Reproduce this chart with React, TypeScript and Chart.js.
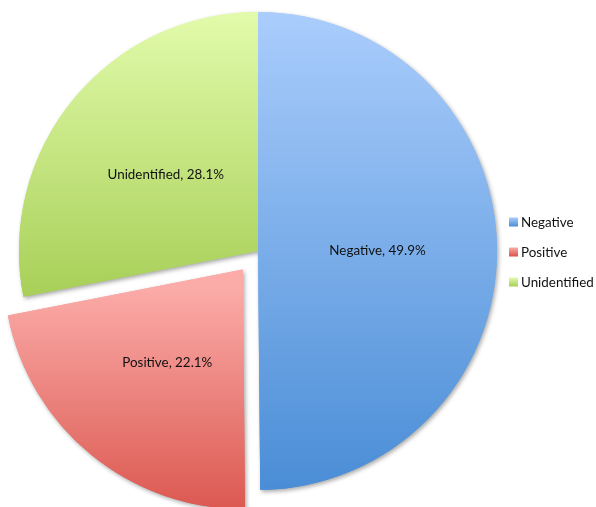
import React, { useEffect, useRef } from 'react';
import { Chart, registerables } from 'chart.js';

Chart.register(...registerables);

const categories = ['Negative', 'Positive', 'Unidentified'];
const percentages = [49.9, 22.1, 28.1];
const explodeOffsets = [0, 24, 0];
const topColors = ['#aacdfc', '#fbaba8', '#e2fbab'];
const bottomColors = ['#4a8dd6', '#d9524a', '#a8cf58'];

const PIE_RADIUS = 239;
const FONT = '13.4px Lato, "Open Sans", sans-serif';

function sliceGeometry(chart: any, i: number) {
  const area = chart.chartArea;
  const data = chart.data.datasets[0].data as number[];
  const total = data.reduce((a, b) => a + b, 0);
  let acc = 0;
  for (let k = 0; k < i; k++) acc += data[k];
  const start = -Math.PI / 2 + (acc / total) * Math.PI * 2;
  const end = start + (data[i] / total) * Math.PI * 2;
  const mid = (start + end) / 2;
  const off = explodeOffsets[i] || 0;
  const cx = (area.left + area.right) / 2 + off * Math.cos(mid);
  const cy = (area.top + area.bottom) / 2 + off * Math.sin(mid);
  return { start, end, mid, cx, cy, off };
}

function sliceGradient(ctx: any) {
  const chart = ctx.chart;
  const i = ctx.dataIndex;
  if (!chart.chartArea || i === undefined) return topColors[i || 0];
  const { start, end, cx, cy } = sliceGeometry(chart, i);
  let minY = cy, maxY = cy;
  for (let s = 0; s <= 90; s++) {
    const a = start + ((end - start) * s) / 90;
    const y = cy + PIE_RADIUS * Math.sin(a);
    minY = Math.min(minY, y);
    maxY = Math.max(maxY, y);
  }
  const g = chart.ctx.createLinearGradient(0, minY, 0, maxY);
  g.addColorStop(0, topColors[i]);
  g.addColorStop(1, bottomColors[i]);
  return g;
}

const shadowPlugin = {
  id: 'sliceShadow',
  beforeDatasetsDraw(chart: any) {
    const ctx = chart.ctx;
    const meta = chart.getDatasetMeta(0);
    ctx.save();
    ctx.shadowColor = 'rgba(0,0,0,0.35)';
    ctx.shadowBlur = 4;
    ctx.shadowOffsetX = 1.5;
    ctx.shadowOffsetY = 2;
    meta.data.forEach((arc: any) => arc.draw(ctx, chart.chartArea));
    ctx.restore();
  },
};

const labelPlugin = {
  id: 'sliceLabels',
  afterDatasetsDraw(chart: any) {
    const ctx = chart.ctx;
    const data = chart.data.datasets[0].data as number[];
    ctx.save();
    ctx.font = FONT;
    ctx.fillStyle = '#111111';
    ctx.textAlign = 'center';
    ctx.textBaseline = 'middle';
    data.forEach((v, i) => {
      const { mid, cx, cy } = sliceGeometry(chart, i);
      const r = PIE_RADIUS * 0.5;
      const x = cx + r * Math.cos(mid);
      const y = cy + r * Math.sin(mid);
      ctx.fillText(`${chart.data.labels[i]}, ${v.toFixed(1)}%`, x, y);
    });
    ctx.restore();
  },
};

const legendPlugin = {
  id: 'sideLegend',
  afterDraw(chart: any) {
    const ctx = chart.ctx;
    const labels = chart.data.labels as string[];
    const x0 = chart.chartArea.right - 7;
    const y0 = 222;
    const gap = 30;
    ctx.save();
    ctx.font = FONT;
    ctx.textBaseline = 'middle';
    ctx.textAlign = 'left';
    labels.forEach((lab, i) => {
      const y = y0 + i * gap;
      const g = ctx.createLinearGradient(0, y - 4.5, 0, y + 4.5);
      g.addColorStop(0, topColors[i]);
      g.addColorStop(1, bottomColors[i]);
      ctx.fillStyle = g;
      ctx.fillRect(x0, y - 4.5, 9, 9);
      ctx.fillStyle = '#111111';
      ctx.fillText(lab, x0 + 12, y + 0.5);
    });
    ctx.restore();
  },
};

export default function App() {
  const canvasRef = useRef<HTMLCanvasElement | null>(null);

  useEffect(() => {
    const canvas = canvasRef.current;
    if (!canvas) return;
    const chart = new Chart(canvas, {
      type: 'pie',
      data: {
        labels: categories,
        datasets: [
          {
            data: percentages,
            backgroundColor: sliceGradient as any,
            borderWidth: 0,
            // Chart.js draws an arc shifted by offset / 4 pixels
            offset: explodeOffsets.map((o) => o * 4),
            clip: false as any,
          } as any,
        ],
      },
      options: {
        animation: false,
        responsive: true,
        maintainAspectRatio: false,
        radius: PIE_RADIUS,
        layout: { padding: { left: 0, top: 0, right: 80, bottom: 5 } },
        plugins: {
          legend: { display: false },
          tooltip: { enabled: false },
          title: { display: false },
        },
      } as any,
      plugins: [shadowPlugin, labelPlugin, legendPlugin],
    });
    return () => chart.destroy();
  }, []);

  return (
    <div style={{ position: 'fixed', left: 0, top: 0, width: 596, height: 507, background: '#ffffff' }}>
      <canvas ref={canvasRef} />
    </div>
  );
}
